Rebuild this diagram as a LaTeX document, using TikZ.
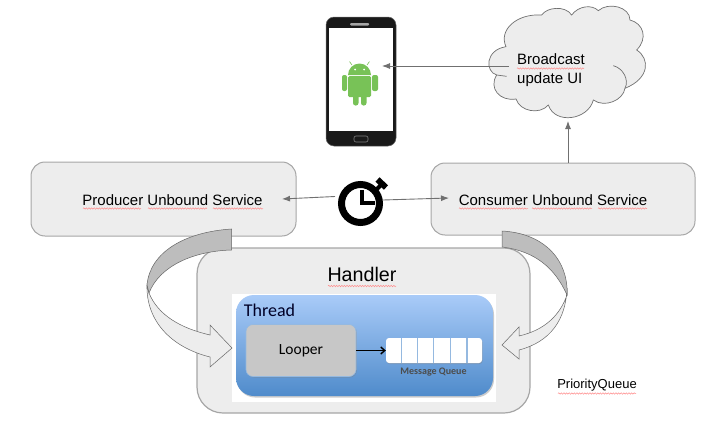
\documentclass[tikz,border=0pt]{standalone}
\usepackage{fontspec}
\setmainfont{Liberation Sans}
\newfontfamily\calib{Carlito}
\usetikzlibrary{arrows.meta,decorations.pathmorphing,shadows}
\definecolor{boxfill}{HTML}{EDEDED}
\definecolor{boxline}{HTML}{A6A6A6}
\definecolor{dark}{HTML}{BDBDBD}
\definecolor{conn}{HTML}{707070}
\definecolor{droid}{HTML}{78C257}
\definecolor{bluetop}{HTML}{A9CBF8}
\definecolor{bluebot}{HTML}{4F8BCB}
\tikzset{
  svc/.style={draw=boxline,line width=1pt,fill=boxfill,rounded corners=14pt,minimum width=265pt,minimum height=74pt,inner sep=0pt},
  link/.style={draw=conn,line width=0.9pt,-{Latex[length=8pt,width=6pt]}},
  lab/.style={inner sep=0pt,text=black,font=\fontsize{15}{18.5}\selectfont},
  spell/.style={draw=red!45,line width=0.5pt,decorate,decoration={snake,amplitude=0.7pt,segment length=2.6pt}},
  band/.style={draw=gray!80!black,line width=0.5pt},
}
\begin{document}
\begin{tikzpicture}[x=1pt,y=-1pt]
\useasboundingbox (0,0) rectangle (721,426);
% services
\node[svc] (prod) at (163.5,199) {};
\node[svc,minimum width=264pt,minimum height=72pt] (cons) at (563,199) {};
\node[lab] (prodl) at (172.5,200) {Producer Unbound Service};
\node[lab] (consl) at (553,200) {Consumer Unbound Service};
\draw[spell] (83,208.5) -- (141,208.5);
\draw[spell] (148,208.5) -- (207,208.5);
\draw[spell] (213,208.5) -- (263,208.5);
\draw[spell] (459,208.5) -- (528,208.5);
\draw[spell] (532,208.5) -- (592,208.5);
\draw[spell] (598,208.5) -- (647,208.5);
% handler
\node[draw=boxline,line width=1.2pt,fill=boxfill,rounded corners=26pt,minimum width=333pt,minimum height=165pt,inner sep=0pt] (hand) at (363.5,330.5) {};
\node[lab,font=\fontsize{19.7}{22}\selectfont] (handl) at (362,274) {Handler};
\draw[spell] (328,286) -- (396,286);
% thread image
\node[fill=white,minimum width=264pt,minimum height=108pt,inner sep=0pt] (img) at (364,348) {};
\shade[top color=bluetop,bottom color=bluebot,rounded corners=18pt,drop shadow={shadow xshift=1pt,shadow yshift=-1.5pt,opacity=.4}] (236,295) rectangle (493,396);
\node[lab,font=\calib\fontsize{18}{20}\selectfont,text=black!85!blue] (thr) at (269.5,310) {Thread};
\node[fill=black!22,draw=bluebot!60,line width=0.6pt,rounded corners=7pt,minimum width=110pt,minimum height=52pt,inner sep=0pt,drop shadow={shadow xshift=.8pt,shadow yshift=-1pt,opacity=.4},font=\calib\fontsize{15.5}{17}\selectfont] (loop) at (301,350.5) {Looper};
\node[fill=white,rounded corners=3pt,minimum width=96pt,minimum height=25pt,inner sep=0pt,drop shadow={shadow xshift=.5pt,shadow yshift=-1pt,opacity=.4}] (queue) at (434,350.5) {};
\foreach \qx in {401.5,417.5,433.5,450.5,467}{\draw[bluebot!60,line width=1.6pt] (\qx,338) -- (\qx,363);}
\node[lab,font=\calib\bfseries\fontsize{10}{11}\selectfont,text=black!70] (ql) at (433.5,372) {Message Queue};
\draw[black,line width=1.4pt,-{Straight Barb[length=4pt,width=7pt]}] (loop.east) -- (queue.west);
% left curved arrow
\draw[band,fill=boxfill] (147,285) .. controls (146,320) and (170,347) .. (210,357) -- (210,367) -- (232,348) -- (210,325) -- (210,335) .. controls (180,328) and (158,315) .. (149,293) -- cycle;
\draw[band,fill=dark] (231.5,229) .. controls (185,232) and (150,252) .. (147,285) -- (149,293) .. controls (160,265) and (195,251) .. (231.5,250) -- cycle;
% right curved arrow
\draw[band,fill=boxfill] (567,288) .. controls (566,320) and (550,342) .. (519,350) -- (519,359) -- (502,345) -- (519,327) -- (519,336) .. controls (545,330) and (560,315) .. (567,295) -- cycle;
\draw[band,fill=dark] (502,231) .. controls (540,233) and (565,255) .. (567,288) -- (567,295) .. controls (555,268) and (535,251) .. (502,247) -- cycle;
% priority
\node[lab,font=\fontsize{13}{15}\selectfont] (prio) at (597,385) {PriorityQueue};
\draw[spell] (558,393.5) -- (636,393.5);
% cloud
\begin{scope}[shift={(480,0)},x=0.3333pt,y=-0.3333pt]
\draw[draw=conn,line width=0.7pt,fill=boxfill] (78,140) .. controls (55,90) and (110,40) .. (185,45) .. controls (200,22) and (255,15) .. (275,45) .. controls (295,18) and (335,12) .. (355,32) .. controls (385,5) and (450,20) .. (450,60) .. controls (490,70) and (505,115) .. (470,150) .. controls (510,175) and (510,235) .. (435,265) .. controls (430,300) and (375,325) .. (340,300) .. controls (325,360) and (225,375) .. (205,315) .. controls (180,345) and (120,335) .. (108,297) .. controls (60,305) and (25,265) .. (50,225) .. controls (15,215) and (15,150) .. (78,140) -- cycle;
\draw[draw=conn,line width=0.7pt] (50,225) -- (80,229);
\draw[draw=conn,line width=0.7pt] (400,197) .. controls (430,205) and (448,240) .. (435,265);
\end{scope}
\node[lab,align=left] (cloud) at (551,70) {Broadcast\\update UI};
\draw[spell] (517,68.5) -- (584,68.5);
\coordinate (cloudb) at (568,121);
\coordinate (cloudl) at (509,66);
% phone
\draw[fill=black!90,rounded corners=8pt,draw=black!60,line width=.5pt] (326,17) rectangle (396,146);
\fill[white] (329,28) rectangle (393,131);
\fill[black!35,rounded corners=1pt] (350,23) rectangle (369,25.5);
\draw[black!50,line width=.6pt,rounded corners=2pt] (354,136) rectangle (368,142);
\coordinate (phone) at (382,66);
% android
\fill[droid] (348,75) arc[start angle=180,end angle=360,radius=11.5] -- cycle;
\fill[droid,rounded corners=1.5pt] (348,76) rectangle (371,97);
\fill[droid,rounded corners=2pt] (342,75) rectangle (347,91);
\fill[droid,rounded corners=2pt] (372,75) rectangle (378,91);
\fill[droid,rounded corners=2.5pt] (353,92) rectangle (358.5,105.5);
\fill[droid,rounded corners=2.5pt] (361,92) rectangle (366.5,105.5);
\draw[droid,line width=.6pt] (352,65) -- (349.5,61.5) (367,65) -- (369.5,61.5);
\fill[white] (355,69.5) circle (1pt) (364,69.5) circle (1pt);
% timer
\coordinate (timerl) at (335,196.5);
\coordinate (timerr) at (383,200);
\coordinate (prodr) at (282,199);
\coordinate (consl2) at (449,198);
\coordinate (consb) at (568,163);
\draw[link] (timerl) -- (prodr);
\draw[link] (timerr) -- (consl2);
\draw[link] (consb) -- (cloudb);
\draw[link] (cloudl) -- (phone);
\node[circle,draw=black,line width=7pt,minimum size=38pt,inner sep=0pt] (timer) at (360.5,203.5) {};
\draw[black,line width=3.5pt] (362,190) -- (362,203) -- (375,203);
\draw[black,line width=6pt] (377.5,179.5) -- (386,187.5);
\draw[black,line width=4pt] (381,185) -- (376,190);
\end{tikzpicture}
\end{document}
